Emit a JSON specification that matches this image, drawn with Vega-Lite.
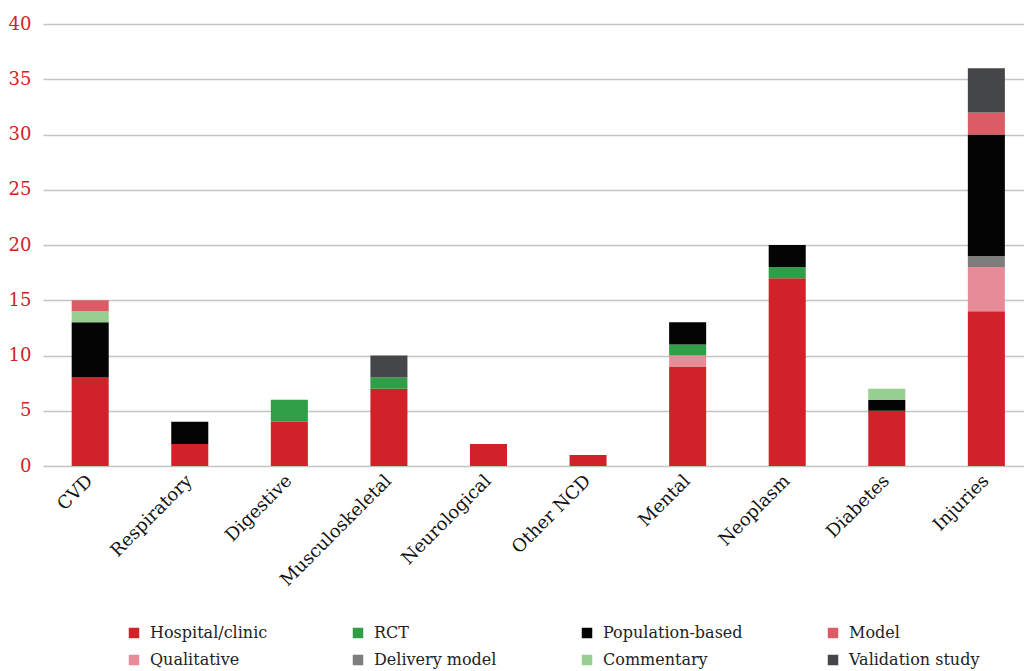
{
  "$schema": "https://vega.github.io/schema/vega-lite/v6.json",
  "autosize": "none",
  "width": 981,
  "height": 442,
  "padding": {"left": 43, "top": 24, "right": 0, "bottom": 205},
  "background": "white",
  "config": {"view": {"stroke": null}, "font": "DejaVu Serif"},
  "data": {"values": [
    {"cat": "CVD", "type": "Hospital/clinic", "n": 8},
    {"cat": "CVD", "type": "Population-based", "n": 5},
    {"cat": "CVD", "type": "Commentary", "n": 1},
    {"cat": "CVD", "type": "Model", "n": 1},
    {"cat": "Respiratory", "type": "Hospital/clinic", "n": 2},
    {"cat": "Respiratory", "type": "Population-based", "n": 2},
    {"cat": "Digestive", "type": "Hospital/clinic", "n": 4},
    {"cat": "Digestive", "type": "RCT", "n": 2},
    {"cat": "Musculoskeletal", "type": "Hospital/clinic", "n": 7},
    {"cat": "Musculoskeletal", "type": "RCT", "n": 1},
    {"cat": "Musculoskeletal", "type": "Validation study", "n": 2},
    {"cat": "Neurological", "type": "Hospital/clinic", "n": 2},
    {"cat": "Other NCD", "type": "Hospital/clinic", "n": 1},
    {"cat": "Mental", "type": "Hospital/clinic", "n": 9},
    {"cat": "Mental", "type": "Qualitative", "n": 1},
    {"cat": "Mental", "type": "RCT", "n": 1},
    {"cat": "Mental", "type": "Population-based", "n": 2},
    {"cat": "Neoplasm", "type": "Hospital/clinic", "n": 17},
    {"cat": "Neoplasm", "type": "RCT", "n": 1},
    {"cat": "Neoplasm", "type": "Population-based", "n": 2},
    {"cat": "Diabetes", "type": "Hospital/clinic", "n": 5},
    {"cat": "Diabetes", "type": "Population-based", "n": 1},
    {"cat": "Diabetes", "type": "Commentary", "n": 1},
    {"cat": "Injuries", "type": "Hospital/clinic", "n": 14},
    {"cat": "Injuries", "type": "Qualitative", "n": 4},
    {"cat": "Injuries", "type": "Delivery model", "n": 1},
    {"cat": "Injuries", "type": "Population-based", "n": 11},
    {"cat": "Injuries", "type": "Model", "n": 2},
    {"cat": "Injuries", "type": "Validation study", "n": 4}
  ]},
  "transform": [
    {"calculate": "indexof(['Hospital/clinic','Qualitative','Delivery model','RCT','Population-based','Commentary','Model','Validation study'], datum.type)", "as": "stackRank"}
  ],
  "mark": {"type": "bar"},
  "encoding": {
    "x": {
      "field": "cat", "type": "nominal",
      "sort": ["CVD","Respiratory","Digestive","Musculoskeletal","Neurological","Other NCD","Mental","Neoplasm","Diabetes","Injuries"],
      "scale": {"paddingInner": 0.628, "paddingOuter": 0.24, "align": 0.6},
      "axis": {
        "title": null, "labelAngle": -45, "labelAlign": "right", "labelBaseline": "middle",
        "labelFontSize": 18, "labelColor": "#111111", "labelPadding": 12,
        "ticks": false, "domain": false, "labelFont": "DejaVu Serif"
      }
    },
    "y": {
      "field": "n", "type": "quantitative", "aggregate": "sum",
      "scale": {"domain": [0, 40]},
      "axis": {
        "title": null, "values": [0,5,10,15,20,25,30,35,40], "labelOverlap": false,
        "labelColor": "#d12229", "labelFontSize": 18, "labelPadding": 12,
        "ticks": false, "domain": false, "grid": true, "gridColor": "#c4c4c4", "gridWidth": 1.3,
        "labelFont": "DejaVu Serif"
      }
    },
    "color": {
      "field": "type", "type": "nominal",
      "scale": {
        "domain": ["Hospital/clinic","RCT","Population-based","Model","Qualitative","Delivery model","Commentary","Validation study"],
        "range": ["#d12229","#2f9e47","#040404","#dc5c66","#e88b99","#7d7d7b","#96cf90","#454648"]
      },
      "legend": {
        "title": null, "orient": "none", "legendX": 83, "legendY": 601,
        "columns": 4, "symbolType": "square", "symbolSize": 110, "symbolStrokeWidth": 0,
        "labelFontSize": 16, "labelColor": "#222222", "labelFont": "DejaVu Serif",
        "columnPadding": 82, "rowPadding": 11, "labelOffset": 8, "direction": "horizontal"
      }
    },
    "order": {"field": "stackRank", "type": "quantitative", "sort": "ascending"}
  }
}
